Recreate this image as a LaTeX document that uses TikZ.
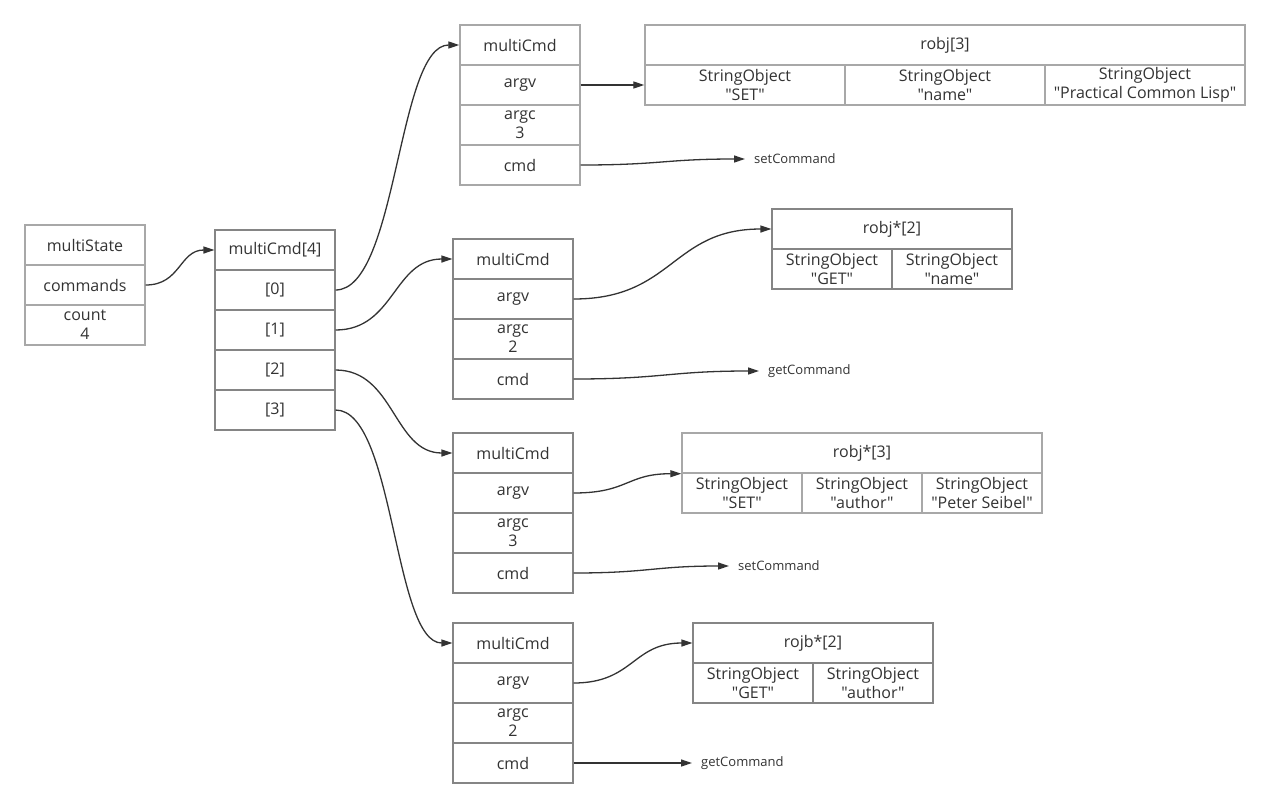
\documentclass[tikz,border=0pt]{standalone}
\usepackage{fontspec}
\setmainfont{Open Sans}[Ligatures=TeXOff]
\usetikzlibrary{arrows.meta}
\definecolor{bl}{HTML}{A8A8A8}
\definecolor{bd}{HTML}{858585}
\definecolor{txt}{HTML}{333333}
\definecolor{ln}{HTML}{333333}
\newcommand{\dq}{"}
\begin{document}
\begin{tikzpicture}[x=1pt,y=-1pt,
 cell/.style={draw=bl,line width=1.4pt,rectangle,inner sep=0pt,minimum height=40pt,minimum width=120pt,align=center,text=txt,font=\fontsize{16}{19}\selectfont},
 dcell/.style={cell,draw=bd,line width=1.1pt},
 conn/.style={draw=ln,line width=1.3pt,-{Triangle[length=11pt,width=7pt]}},
 lab/.style={anchor=west,inner ysep=1pt,inner xsep=9pt,text=txt,font=\fontsize{13}{15}\selectfont}]
\fill[white] (0,0) rectangle (1270,807);
\useasboundingbox (0,0) rectangle (1270,807);
% multiState
\node[cell] (ms0) at (85,245) {multiState};
\node[cell] (ms1) at (85,285) {commands};
\node[cell] (ms2) at (85,325) {count\\4};
% multiCmd[4]
\node[dcell] (mch) at (275,250) {multiCmd[4]};
\node[dcell] (mc0) at (275,290) {[0]};
\node[dcell] (mc1) at (275,330) {[1]};
\node[dcell] (mc2) at (275,370) {[2]};
\node[dcell] (mc3) at (275,410) {[3]};
% multiCmd A
\node[cell] (ah) at (520,45) {multiCmd};
\node[cell] (aargv) at (520,85) {argv};
\node[cell] (aargc) at (520,125) {argc\\3};
\node[cell] (acmd) at (520,165) {cmd};
\node[cell,minimum width=600pt] (rah) at (945,45) {robj[3]};
\node[cell,minimum width=200pt] (ra1) at (745,85) {StringObject\\\dq SET\dq};
\node[cell,minimum width=200pt] (ra2) at (945,85) {StringObject\\\dq name\dq};
\node[cell,minimum width=200pt] (ra3) at (1145,85) {StringObject\\\dq Practical Common Lisp\dq};
\node[lab] (alab) at (745,159) {setCommand};
% multiCmd B
\node[dcell] (bh) at (513,259) {multiCmd};
\node[dcell] (bargv) at (513,299) {argv};
\node[dcell] (bargc) at (513,339) {argc\\2};
\node[dcell] (bcmd) at (513,379) {cmd};
\node[dcell,minimum width=240pt] (rbh) at (892,229) {robj*[2]};
\node[dcell] (rb1) at (832,269) {StringObject\\\dq GET\dq};
\node[dcell] (rb2) at (952,269) {StringObject\\\dq name\dq};
\node[lab] (blab) at (759,371) {getCommand};
% multiCmd C
\node[dcell] (ch) at (513,453) {multiCmd};
\node[dcell] (cargv) at (513,493) {argv};
\node[dcell] (cargc) at (513,533) {argc\\3};
\node[dcell] (ccmd) at (513,573) {cmd};
\node[cell,minimum width=360pt] (rch) at (862,453) {robj*[3]};
\node[cell] (rc1) at (742,493) {StringObject\\\dq SET\dq};
\node[cell] (rc2) at (862,493) {StringObject\\\dq author\dq};
\node[cell] (rc3) at (982,493) {StringObject\\\dq Peter Seibel\dq};
\node[lab] (clab) at (729,566) {setCommand};
% multiCmd D
\node[dcell] (dh) at (513,643) {multiCmd};
\node[dcell] (dargv) at (513,683) {argv};
\node[dcell] (dargc) at (513,723) {argc\\2};
\node[dcell] (dcmd) at (513,763) {cmd};
\node[dcell,minimum width=240pt] (rdh) at (813,643) {rojb*[2]};
\node[dcell] (rd1) at (753,683) {StringObject\\\dq GET\dq};
\node[dcell] (rd2) at (873,683) {StringObject\\\dq author\dq};
\node[lab] (dlab) at (692,763) {getCommand};
% connectors
\draw[conn] (ms1.east) to[out=0,in=180,distance=35pt] (mch.west);
\draw[conn] (mc0.east) to[out=0,in=180,distance=62pt] (ah.west);
\draw[conn] (mc1.east) to[out=0,in=180,distance=59pt] (bh.west);
\draw[conn] (mc2.east) to[out=0,in=180,distance=59pt] (ch.west);
\draw[conn] (mc3.east) to[out=0,in=180,distance=59pt] (dh.west);
\draw[conn] (aargv.east) to[out=0,in=180,distance=32pt] (ra1.west);
\draw[conn] (acmd.east) to[out=0,in=180,distance=80pt] (alab.west);
\draw[conn] (bargv.east) to[out=0,in=180,distance=100pt] (rbh.west);
\draw[conn] (bcmd.east) to[out=0,in=180,distance=90pt] (blab.west);
\draw[conn] (cargv.east) to[out=0,in=180,distance=55pt] (rch.south west);
\draw[conn] (ccmd.east) to[out=0,in=180,distance=75pt] (clab.west);
\draw[conn] (dargv.east) to[out=0,in=180,distance=60pt] (rdh.west);
\draw[conn] (dcmd.east) to[out=0,in=180,distance=60pt] (dlab.west);
\end{tikzpicture}
\end{document}
